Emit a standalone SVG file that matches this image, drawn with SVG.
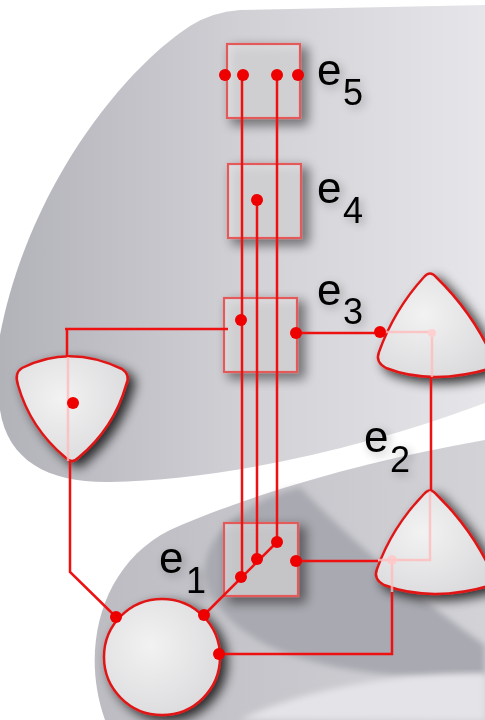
<svg xmlns="http://www.w3.org/2000/svg" width="485" height="720" viewBox="0 0 485 720">
<defs>
<style>
.box{fill:#ececee;fill-opacity:0.55;stroke:#e25a5a;stroke-width:2.2}
.node{fill:url(#ng);stroke:#e01818;stroke-width:2.5}
.wire{fill:none;stroke:#ee1111;stroke-width:2.5}
.faint{fill:none;stroke:#ffbcbc;stroke-width:2.5;opacity:0.8}
.dot{fill:#ee0000}
.lab{font-family:"Liberation Sans",Arial,sans-serif;font-size:44px;fill:#000}
.sub{font-size:36px}
</style>
<filter id="sh" x="-40%" y="-40%" width="180%" height="180%">
<feGaussianBlur in="SourceAlpha" stdDeviation="6"/>
<feOffset dx="6" dy="5" result="b"/>
<feComponentTransfer><feFuncA type="linear" slope="0.8"/></feComponentTransfer>
<feMerge><feMergeNode/><feMergeNode in="SourceGraphic"/></feMerge>
</filter>
<filter id="tsh" x="-40%" y="-40%" width="180%" height="180%">
<feGaussianBlur in="SourceAlpha" stdDeviation="5"/>
<feOffset dx="3" dy="3"/>
<feComponentTransfer><feFuncA type="linear" slope="0.3"/></feComponentTransfer>
<feMerge><feMergeNode/><feMergeNode in="SourceGraphic"/></feMerge>
</filter>
<filter id="bl"><feGaussianBlur stdDeviation="3"/></filter>
<radialGradient id="ng" cx="0.4" cy="0.4" r="0.7">
<stop offset="0" stop-color="#f2f2f3"/><stop offset="1" stop-color="#dadadc"/>
</radialGradient>
<linearGradient id="ug" x1="0" y1="0" x2="1" y2="0">
<stop offset="0" stop-color="#b2b2b9"/><stop offset="0.5" stop-color="#d0d0d5"/><stop offset="1" stop-color="#e6e6ea"/>
</linearGradient>
<linearGradient id="lg" x1="0" y1="0" x2="1" y2="0">
<stop offset="0" stop-color="#bcbcc2"/><stop offset="1" stop-color="#d2d2d7"/>
</linearGradient>
</defs>
<rect width="485" height="720" fill="#ffffff"/>
<g id="background">
<path d="M485,5 L240,10 Q212,12 190,26 C120,72 28,190 0,335 L0,410 C8,462 50,483 110,482 C220,480 360,450 485,403 Z" fill="url(#ug)"/>
<path d="M485,440 C380,458 260,490 170,530 C100,565 80,650 105,720 L485,720 Z" fill="url(#lg)"/>
<path d="M300,487 C260,497 215,522 206,560 C198,600 240,640 300,658 C360,676 430,680 485,676 L485,645 C420,600 340,530 300,487 Z" fill="#a9a9b1" filter="url(#bl)"/>
<path d="M485,674 C400,672 300,690 240,720 L485,720 Z" fill="#e4e4e8" filter="url(#bl)"/>
</g>
<g id="e5" filter="url(#sh)"><rect class="box" x="227" y="44" width="73" height="74"/></g>
<g id="e4" filter="url(#sh)"><rect class="box" x="228" y="164" width="73" height="74"/></g>
<g id="e3" filter="url(#sh)"><rect class="box" x="224" y="298" width="73" height="74"/></g>
<g id="e1" filter="url(#sh)"><rect class="box" x="224" y="523" width="74" height="73"/></g>
<g id="v-left">
<path class="node" filter="url(#sh)" d="M22,368 Q70,344 122,369 Q131,375 126,385 Q114,428 78,458 Q72,464 66,458 Q30,428 18,385 Q14,373 22,368 Z"/>
<path class="faint" d="M68,357 V461"/>
</g>
<g id="v-top">
<path class="node" filter="url(#sh)" d="M424,277 Q430,270 436,277 Q472,312 492,356 L492,368 Q432,386 386,368 Q375,362 379,352 Q394,310 424,277 Z"/>
<path class="faint" d="M381,332 H432 V377"/>
<circle cx="432" cy="333" r="4" fill="#ffd0d0"/>
</g>
<g id="v-bottom">
<path class="node" filter="url(#sh)" d="M424,494 Q430,487 436,494 Q472,529 492,573 L492,585 Q432,603 384,585 Q373,579 377,569 Q392,527 424,494 Z"/>
<path class="faint" d="M430,491 V560 H378 M392,560 V592"/>
<circle cx="392" cy="560" r="5" fill="#ffc8c8" opacity="0.8"/>
</g>
<g id="v-circle"><circle class="node" filter="url(#sh)" cx="162" cy="657" r="58"/></g>
<g id="connectors">
<path class="wire" d="M242,75 V577"/>
<path class="wire" d="M257,200 V560"/>
<path class="wire" d="M277,75 V542"/>
<path class="wire" d="M228,329 H65 M67,329 V357"/>
<path class="wire" d="M296,333 H380"/>
<path class="wire" d="M431,377 V490"/>
<path class="wire" d="M70,462 V572 L116,617"/>
<path class="wire" d="M277,542 L204,615"/>
<path class="wire" d="M296,561 H378"/>
<path class="wire" d="M219,654 H392 V592"/>
</g>
<g id="ports">
<circle class="dot" cx="225" cy="75" r="6"/>
<circle class="dot" cx="243" cy="75" r="6"/>
<circle class="dot" cx="277" cy="75" r="6"/>
<circle class="dot" cx="298" cy="75" r="6"/>
<circle class="dot" cx="257" cy="200" r="6"/>
<circle class="dot" cx="241" cy="320" r="6"/>
<circle class="dot" cx="296" cy="333" r="6"/>
<circle class="dot" cx="380" cy="332" r="6"/>
<circle class="dot" cx="73" cy="403" r="6"/>
<circle class="dot" cx="241" cy="577" r="6"/>
<circle class="dot" cx="257" cy="559" r="6"/>
<circle class="dot" cx="277" cy="542" r="6"/>
<circle class="dot" cx="296" cy="561" r="6"/>
<circle class="dot" cx="116" cy="617" r="6"/>
<circle class="dot" cx="204" cy="615" r="6"/>
<circle class="dot" cx="219" cy="654" r="6"/>
</g>
<g id="labels" filter="url(#tsh)">
<text class="lab" x="317" y="85">e<tspan class="sub" x="343" y="105">5</tspan></text>
<text class="lab" x="317" y="203">e<tspan class="sub" x="343" y="223">4</tspan></text>
<text class="lab" x="317" y="305">e<tspan class="sub" x="343" y="324">3</tspan></text>
<text class="lab" x="364" y="452">e<tspan class="sub" x="390" y="472">2</tspan></text>
<text class="lab" x="159" y="573">e<tspan class="sub" x="186" y="593">1</tspan></text>
</g>
</svg>
